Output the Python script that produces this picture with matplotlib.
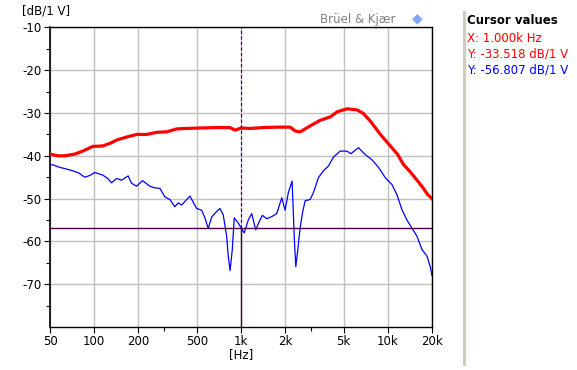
import matplotlib
matplotlib.use('Agg')
import matplotlib.pyplot as plt
from matplotlib.ticker import FixedLocator, NullFormatter

# spectra (Hz, dB/1 V)
red_f = [50, 56.4, 63, 73.7, 83.6, 97.8, 114.4, 129.8, 142.6, 166.8, 195.2,
         228.4, 267.3, 312.7, 365.9, 428.1, 525.3, 686, 841, 910, 1000, 1155,
         1416, 1765, 2164, 2341, 2532, 2962, 3467, 4057, 4529, 5300, 6200,
         6813, 7605, 8900, 10410, 11625, 12770, 14255, 15910, 17480, 18620,
         20000]
red_db = [-39.6, -40.0, -40.0, -39.6, -38.9, -37.8, -37.7, -37.0, -36.3,
          -35.6, -35.0, -35.0, -34.5, -34.4, -33.7, -33.6, -33.5, -33.4,
          -33.4, -34.0, -33.518, -33.6, -33.4, -33.3, -33.3, -34.2, -34.4,
          -33.0, -31.7, -30.9, -29.7, -29.0, -29.3, -30.1, -31.9, -35.0,
          -37.7, -39.6, -42.0, -43.8, -45.8, -47.6, -49.0, -50.0]

blue_f = [50, 52.2, 58.3, 65, 71.4, 78.5, 86.2, 93.3, 100.9, 114.4, 123.8,
          131.2, 141.9, 153.5, 170.3, 179.6, 194.3, 213.5, 239.4, 259, 280.2,
          303, 327.7, 354.5, 373.5, 393.9, 448.7, 498.6, 539.3, 567.9, 598.1,
          631, 682.6, 719, 756.9, 798.6, 818.9, 842.9, 871.8, 899.6, 957.9,
          1000, 1052, 1121, 1183, 1260, 1327, 1398, 1498, 1620, 1752, 1895,
          1996, 2102, 2228, 2310, 2362, 2438, 2527, 2620, 2734, 2957, 3114,
          3368, 3643, 3940, 4262, 4737, 5262, 5603, 6313, 7014, 7790, 8645,
          9603, 10670, 11540, 12520, 13505, 14605, 15800, 17090, 18530, 19480,
          20000]
blue_db = [-42.2, -42.1, -42.7, -43.1, -43.5, -44.0, -45.0, -44.6, -43.9,
           -44.5, -45.3, -46.3, -45.3, -45.7, -44.7, -46.4, -47.1, -45.8,
           -47.1, -47.5, -47.6, -49.6, -50.2, -51.9, -51.0, -51.5, -49.4,
           -52.3, -52.7, -54.5, -57.0, -54.3, -53.0, -52.3, -53.8, -58.8,
           -63.5, -66.8, -62.0, -54.5, -55.7, -56.807, -58.0, -55.0, -53.5,
           -57.3, -55.5, -53.9, -54.7, -54.2, -53.5, -49.8, -52.7, -48.6,
           -45.9, -59.6, -65.9, -61.9, -56.9, -53.4, -50.5, -50.2, -48.6,
           -45.1, -43.5, -42.4, -40.3, -38.9, -38.9, -39.5, -38.1, -39.7,
           -40.9, -42.7, -45.1, -46.7, -49.1, -52.7, -55.0, -56.9, -58.8,
           -61.9, -63.5, -66.0, -68.0]

x_ticks = [50, 100, 200, 500, 1000, 2000, 5000, 10000, 20000]
x_labels = ['50', '100', '200', '500', '1k', '2k', '5k', '10k', '20k']
y_ticks = [-10, -20, -30, -40, -50, -60, -70]

cursor_x = 1000
cursor_red = -33.518
cursor_blue = -56.807
cursor_lines = [('X: 1.000k Hz', 'red'),
                ('Y: -33.518 dB/1 V', 'red'),
                ('Y: -56.807 dB/1 V', 'blue')]

plt.rcParams['font.family'] = 'DejaVu Sans'
plt.rcParams['axes.unicode_minus'] = False
fig = plt.figure(figsize=(5.77, 3.70), dpi=100)
ax = fig.add_axes([50 / 577, 1 - 327 / 370, 382 / 577, 300 / 370])

ax.set_xscale('log')
ax.set_xlim(50, 20000)
ax.set_ylim(-80, -9.9)

ax.xaxis.set_major_locator(FixedLocator(x_ticks))
ax.set_xticklabels(x_labels)
ax.xaxis.set_minor_locator(FixedLocator([300, 3000]))
ax.xaxis.set_minor_formatter(NullFormatter())
ax.yaxis.set_major_locator(FixedLocator(y_ticks))
ax.yaxis.set_minor_locator(FixedLocator([-15, -25, -35, -45, -55, -65, -75]))
ax.tick_params(which='major', length=4, width=0.8, labelsize=8.5, pad=2)
ax.tick_params(which='minor', length=3, width=0.8)
ax.grid(True, which='major', color='#c0c0c0', linewidth=1.0)
for s in ax.spines.values():
    s.set_color('black')
    s.set_linewidth(1.0)
ax.spines['left'].set_linewidth(1.2)

ax.plot(blue_f, blue_db, color='blue', linewidth=0.9, zorder=3)
ax.plot(red_f, red_db, color='red', linewidth=2.3, zorder=4)

# cursor
ax.axhline(cursor_blue, color='#400040', linewidth=1.0, zorder=5)
ax.plot([cursor_x, cursor_x], [-80, cursor_blue], color='#400040',
        linewidth=1.0, zorder=5)
ax.plot([cursor_x, cursor_x], [cursor_blue, -9.9], color='#400040',
        linewidth=0.8, linestyle=(0, (3, 2)), zorder=5)

fig.text(22 / 577, 1 - 11 / 370, '[dB/1 V]', fontsize=8.5, va='center')
fig.text(241 / 577, 1 - 355 / 370, '[Hz]', fontsize=8.5, ha='center',
         va='center')

# logo
fig.text(395 / 577, 1 - 19 / 370, 'Brüel & Kjær', fontsize=8.5,
         color='#808080', ha='right', va='center')
fig.text(417 / 577, 1 - 18 / 370, '◆', fontsize=10, color='#7fa8ff',
         ha='center', va='center')

# cursor panel
fig.add_artist(plt.Line2D([463.5 / 577, 463.5 / 577],
                          [1 - 364 / 370, 1 - 12 / 370],
                          color='#cfcbbf', linewidth=2.2))
fig.text(467 / 577, 1 - 21 / 370, 'Cursor values', fontsize=8.5,
         fontweight='bold', va='center')
for i, (txt, col) in enumerate(cursor_lines):
    fig.text(467 / 577, 1 - (38 + 16 * i) / 370, txt, fontsize=8.5,
             color=col, va='center')

fig.savefig('out.png', dpi=100)
